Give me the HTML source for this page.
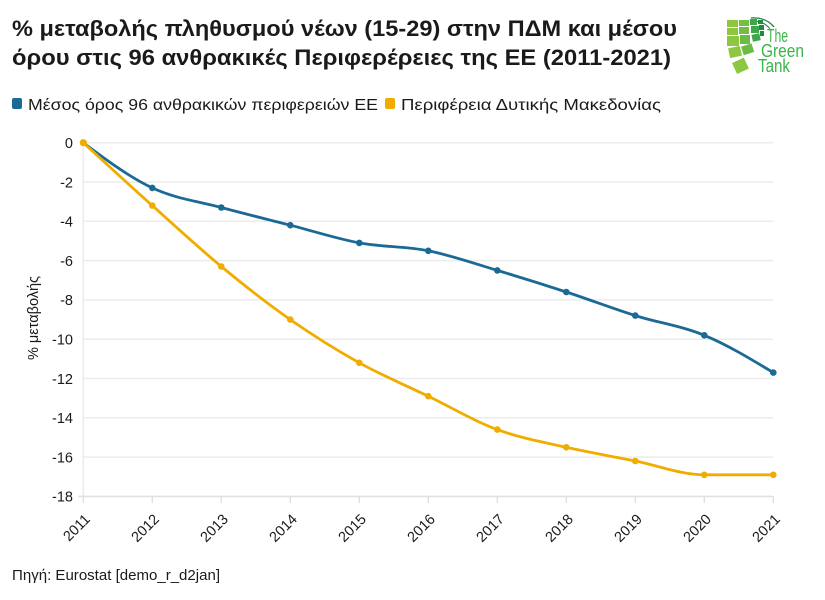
<!DOCTYPE html>
<html>
<head>
<meta charset="utf-8">
<style>
  html,body{margin:0;padding:0;background:#fff;}
  svg{display:block;}
  text{font-family:"Liberation Sans","DejaVu Sans",sans-serif;}
</style>
</head>
<body>
<svg width="825" height="600" viewBox="0 0 825 600" xmlns="http://www.w3.org/2000/svg">
  <rect width="825" height="600" fill="#fff"/>
  <!-- Title -->
  <text x="12" y="36" font-size="22.5" font-weight="bold" fill="#1a1a1a" textLength="665" lengthAdjust="spacingAndGlyphs">% μεταβολής πληθυσμού νέων (15-29) στην ΠΔΜ και μέσου</text>
  <text x="12" y="65" font-size="22.5" font-weight="bold" fill="#1a1a1a" textLength="659" lengthAdjust="spacingAndGlyphs">όρου στις 96 ανθρακικές Περιφερέρειες της ΕΕ (2011-2021)</text>

  <!-- Logo -->
  <g>
    <path d="M751,18 Q766,17 774,27" fill="none" stroke="#1e7a3c" stroke-width="1.2"/>
    <path d="M753,21 Q764,21 770,29" fill="none" stroke="#1e7a3c" stroke-width="1"/>
    <!-- outer column -->
    <rect x="727" y="20" width="11" height="7" fill="#8dc63f"/>
    <rect x="727" y="28" width="11" height="7" fill="#8dc63f"/>
    <rect x="727" y="36" width="12" height="10" fill="#8dc63f"/>
    <rect x="729" y="47" width="12" height="10" fill="#8dc63f" transform="rotate(-12 735 52)"/>
    <rect x="734" y="60" width="13" height="12" fill="#8dc63f" transform="rotate(-25 740 66)"/>
    <!-- second column -->
    <rect x="739" y="20" width="10" height="6" fill="#72bf44"/>
    <rect x="739" y="27" width="10" height="7" fill="#72bf44"/>
    <rect x="740" y="35" width="10" height="9" fill="#6cbb45"/>
    <rect x="742" y="45" width="11" height="9" fill="#6cbb45" transform="rotate(-18 747 49)"/>
    <!-- third column -->
    <rect x="750" y="19" width="7" height="6" fill="#3ea74a"/>
    <rect x="751" y="26" width="8" height="7" fill="#3ea74a"/>
    <rect x="752" y="34" width="8" height="7" fill="#3ea74a" transform="rotate(-12 756 37)"/>
    <!-- fourth column -->
    <rect x="758" y="20" width="5" height="4" fill="#1f8b43"/>
    <rect x="759" y="25" width="5" height="5" fill="#1f8b43"/>
    <rect x="760" y="31" width="4" height="5" fill="#1f8b43"/>
    <text x="767" y="42" font-size="18" fill="#39b54a" textLength="21" lengthAdjust="spacingAndGlyphs">The</text>
    <text x="761" y="57" font-size="18" fill="#39b54a" textLength="43" lengthAdjust="spacingAndGlyphs">Green</text>
    <text x="758" y="72" font-size="18" fill="#39b54a" textLength="32" lengthAdjust="spacingAndGlyphs">Tank</text>
  </g>

  <!-- Legend -->
  <rect x="12" y="98" width="10" height="11" rx="2" fill="#1b6a96"/>
  <text x="28" y="110" font-size="16" fill="#1a1a1a" textLength="350" lengthAdjust="spacingAndGlyphs">Μέσος όρος 96 ανθρακικών περιφερειών ΕΕ</text>
  <rect x="385" y="98" width="10" height="11" rx="2" fill="#f0ad00"/>
  <text x="401" y="110" font-size="16" fill="#1a1a1a" textLength="260" lengthAdjust="spacingAndGlyphs">Περιφέρεια Δυτικής Μακεδονίας</text>

  <!-- Grid -->
  <g stroke="#ebebeb" stroke-width="1.5">
    <line x1="83" y1="142.7" x2="773" y2="142.7"/>
    <line x1="83" y1="182" x2="773" y2="182"/>
    <line x1="83" y1="221.3" x2="773" y2="221.3"/>
    <line x1="83" y1="260.6" x2="773" y2="260.6"/>
    <line x1="83" y1="299.9" x2="773" y2="299.9"/>
    <line x1="83" y1="339.2" x2="773" y2="339.2"/>
    <line x1="83" y1="378.5" x2="773" y2="378.5"/>
    <line x1="83" y1="417.8" x2="773" y2="417.8"/>
    <line x1="83" y1="457.1" x2="773" y2="457.1"/>
    <line x1="83.3" y1="142.7" x2="83.3" y2="496.4"/>
  </g>
  <line x1="78" y1="496.4" x2="773" y2="496.4" stroke="#e0e0e0" stroke-width="1.6"/>
  <g stroke="#dddddd" stroke-width="1.2">
    <line x1="83.3" y1="496" x2="83.3" y2="503"/>
    <line x1="152.3" y1="496" x2="152.3" y2="503"/>
    <line x1="221.3" y1="496" x2="221.3" y2="503"/>
    <line x1="290.3" y1="496" x2="290.3" y2="503"/>
    <line x1="359.3" y1="496" x2="359.3" y2="503"/>
    <line x1="428.3" y1="496" x2="428.3" y2="503"/>
    <line x1="497.3" y1="496" x2="497.3" y2="503"/>
    <line x1="566.3" y1="496" x2="566.3" y2="503"/>
    <line x1="635.3" y1="496" x2="635.3" y2="503"/>
    <line x1="704.3" y1="496" x2="704.3" y2="503"/>
    <line x1="773.3" y1="496" x2="773.3" y2="503"/>
  </g>

  <!-- Y tick labels -->
  <g font-size="14.5" fill="#1a1a1a" text-anchor="end">
    <text x="73" y="148">0</text>
    <text x="73" y="187.3">-2</text>
    <text x="73" y="226.6">-4</text>
    <text x="73" y="265.9">-6</text>
    <text x="73" y="305.2">-8</text>
    <text x="73" y="344.5">-10</text>
    <text x="73" y="383.8">-12</text>
    <text x="73" y="423.1">-14</text>
    <text x="73" y="462.4">-16</text>
    <text x="73" y="501.7">-18</text>
  </g>
  <text transform="translate(38 318) rotate(-90)" font-size="14.5" fill="#1a1a1a" text-anchor="middle">% μεταβολής</text>

  <!-- X tick labels -->
  <g font-size="14.5" fill="#1a1a1a" text-anchor="end">
    <text transform="translate(91 520) rotate(-45)">2011</text>
    <text transform="translate(160 520) rotate(-45)">2012</text>
    <text transform="translate(229 520) rotate(-45)">2013</text>
    <text transform="translate(298 520) rotate(-45)">2014</text>
    <text transform="translate(367 520) rotate(-45)">2015</text>
    <text transform="translate(436 520) rotate(-45)">2016</text>
    <text transform="translate(505 520) rotate(-45)">2017</text>
    <text transform="translate(574 520) rotate(-45)">2018</text>
    <text transform="translate(643 520) rotate(-45)">2019</text>
    <text transform="translate(712 520) rotate(-45)">2020</text>
    <text transform="translate(781 520) rotate(-45)">2021</text>
  </g>

  <!-- Blue series -->
  <path d="M83.3,142.7 C106.3,159.9 129.3,177.1 152.3,187.9 C175.3,198.7 198.3,201.3 221.3,207.5 C244.3,213.7 267.3,219.3 290.3,225.2 C313.3,231.1 336.3,238.6 359.3,242.9 C382.3,247.2 405.3,246.2 428.3,250.8 C451.3,255.4 474.3,263.5 497.3,270.4 C520.3,277.3 543.3,284.5 566.3,292.0 C589.3,299.5 612.3,308.4 635.3,315.6 C658.3,322.8 681.3,325.8 704.3,335.3 C727.3,344.8 750.3,358.7 773.3,372.6" fill="none" stroke="#1b6a96" stroke-width="2.8" stroke-linejoin="round" stroke-linecap="round"/>
  <g fill="#1b6a96">
    <circle cx="83.3" cy="142.7" r="3.3"/>
    <circle cx="152.3" cy="187.9" r="3.3"/>
    <circle cx="221.3" cy="207.5" r="3.3"/>
    <circle cx="290.3" cy="225.2" r="3.3"/>
    <circle cx="359.3" cy="242.9" r="3.3"/>
    <circle cx="428.3" cy="250.8" r="3.3"/>
    <circle cx="497.3" cy="270.4" r="3.3"/>
    <circle cx="566.3" cy="292.0" r="3.3"/>
    <circle cx="635.3" cy="315.6" r="3.3"/>
    <circle cx="704.3" cy="335.3" r="3.3"/>
    <circle cx="773.3" cy="372.6" r="3.3"/>
  </g>

  <!-- Yellow series -->
  <path d="M83.3,142.7 C106.3,163.8 129.3,185.0 152.3,205.6 C175.3,226.2 198.3,247.5 221.3,266.5 C244.3,285.5 267.3,303.6 290.3,319.6 C313.3,335.6 336.3,350.0 359.3,362.8 C382.3,375.6 405.3,385.1 428.3,396.2 C451.3,407.3 474.3,421.1 497.3,429.6 C520.3,438.1 543.3,442.1 566.3,447.3 C589.3,452.5 612.3,456.4 635.3,461.0 C658.3,465.6 681.3,474.8 704.3,474.8 C727.3,474.8 750.3,474.8 773.3,474.8" fill="none" stroke="#f0ad00" stroke-width="2.8" stroke-linejoin="round" stroke-linecap="round"/>
  <g fill="#f0ad00">
    <circle cx="83.3" cy="142.7" r="3.6"/>
    <circle cx="152.3" cy="205.6" r="3.3"/>
    <circle cx="221.3" cy="266.5" r="3.3"/>
    <circle cx="290.3" cy="319.6" r="3.3"/>
    <circle cx="359.3" cy="362.8" r="3.3"/>
    <circle cx="428.3" cy="396.2" r="3.3"/>
    <circle cx="497.3" cy="429.6" r="3.3"/>
    <circle cx="566.3" cy="447.3" r="3.3"/>
    <circle cx="635.3" cy="461.0" r="3.3"/>
    <circle cx="704.3" cy="474.8" r="3.3"/>
    <circle cx="773.3" cy="474.8" r="3.3"/>
  </g>

  <!-- Source -->
  <text x="12" y="580" font-size="14.5" fill="#1a1a1a" textLength="208" lengthAdjust="spacingAndGlyphs">Πηγή: Eurostat [demo_r_d2jan]</text>
</svg>
</body>
</html>
